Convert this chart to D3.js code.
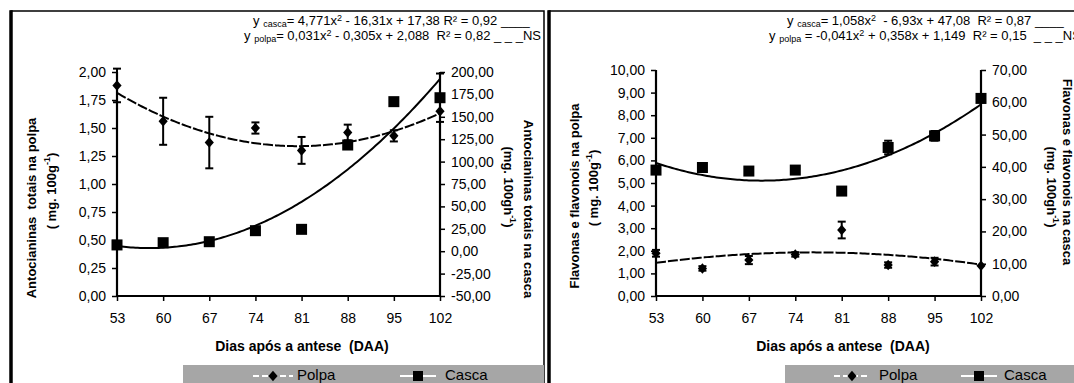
<!DOCTYPE html>
<html><head><meta charset="utf-8">
<script src="https://cdn.jsdelivr.net/npm/d3@7/dist/d3.min.js"></script>
<style>
body{margin:0;background:#fff}
svg{display:block}
text{font-family:"Liberation Sans",Arial,sans-serif;fill:#000;white-space:pre}
</style>
</head><body>
<svg id="c" width="1074" height="383"></svg>
<script>
// ---------- DATA ----------
const categories = [53, 60, 67, 74, 81, 88, 95, 102];

// Panel A: Antocianinas totais
const antPolpa     = [1.88, 1.56, 1.37, 1.50, 1.30, 1.46, 1.43, 1.65];
const antPolpaErr  = [0.15, 0.21, 0.23, 0.05, 0.12, 0.07, 0.05, 0];
const antCasca     = [7.0, 9.5, 10.6, 22.9, 24.4, 118.5, 166.9, 171.3];
const antCascaErr  = [0, 0, 0, 0, 0, 0, 0, 27];
const antCascaFit  = [4.771, -16.31, 17.38];
const antPolpaFit  = [0.031, -0.305, 2.088];
const antLeftTicks  = [0, 0.25, 0.5, 0.75, 1, 1.25, 1.5, 1.75, 2];
const antRightTicks = [-50, -25, 0, 25, 50, 75, 100, 125, 150, 175, 200];

// Panel B: Flavonas e flavonois
const flaPolpa     = [1.89, 1.22, 1.59, 1.84, 2.92, 1.37, 1.52, 1.34];
const flaPolpaErr  = [0.15, 0.10, 0.18, 0.10, 0.37, 0.12, 0.17, 0];
const flaCasca     = [39.0, 39.8, 38.7, 39.0, 32.5, 46.0, 49.6, 61.2];
const flaCascaErr  = [0.8, 1.2, 0, 0.6, 1.2, 2.1, 1.5, 0];
const flaCascaFit  = [1.058, -6.93, 47.08];
const flaPolpaFit  = [-0.041, 0.358, 1.149];
const flaLeftTicks  = [0, 1, 2, 3, 4, 5, 6, 7, 8, 9, 10];
const flaRightTicks = [0, 10, 20, 30, 40, 50, 60, 70];

// equation texts: [text, mode] mode: n normal, s subscript, p superscript
const antEq1 = [["y ","n"],["casca","s"],["= 4,771x","n"],["2","p"],[" - 16,31x + 17,38 R² = 0,92 ____","n"]];
const antEq2 = [["y ","n"],["polpa","s"],["= 0,031x","n"],["2","p"],[" - 0,305x + 2,088  R² = 0,82 _ _ _NS","n"]];
const flaEq1 = [["y ","n"],["casca","s"],["= 1,058x","n"],["2","p"],["  - 6,93x + 47,08  R² = 0,87 ____","n"]];
const flaEq2 = [["y ","n"],["polpa","s"],[" = -0,041x","n"],["2","p"],[" + 0,358x + 1,149  R² = 0,15  _ _ _NS","n"]];

// ---------- LAYOUT ----------
const panels = [
  { frame:{x:11,y:11,r:544}, plot:{x0:117,x1:440,top:72,bot:296},
    polpa:antPolpa, polpaErr:antPolpaErr, casca:antCasca, cascaErr:antCascaErr,
    polpaFit:antPolpaFit, cascaFit:antCascaFit,
    leftTicks:antLeftTicks, rightTicks:antRightTicks,
    eq1:antEq1, eq2:antEq2, eqX1:253, eqX2:244,
    titleX:302,
    lt:{x:33,y:208,t:"Antocianinas  totais na polpa"}, ls:{x:53,y:191,t:"( mg. 100g",u:"-1"},
    rt:{x:527,y:209,t:"Antocianinas totais na casca"}, rs:{x:507,y:187,t:"(mg. 100gh",u:"-1"},
    leg:{x:183, p1:253, p2:293, pt:297, c1:400, c2:436, ct:445}
  },
  { frame:{x:549,y:11,r:1085}, plot:{x0:656,x1:981,top:70,bot:296},
    polpa:flaPolpa, polpaErr:flaPolpaErr, casca:flaCasca, cascaErr:flaCascaErr,
    polpaFit:flaPolpaFit, cascaFit:flaCascaFit,
    leftTicks:flaLeftTicks, rightTicks:flaRightTicks,
    eq1:flaEq1, eq2:flaEq2, eqX1:787, eqX2:769,
    titleX:843,
    lt:{x:576,y:196,t:"Flavonas e flavonois na polpa"}, ls:{x:595,y:188,t:"( mg. 100g",u:"-1"},
    rt:{x:1066,y:172,t:"Flavonas e flavonois na casca"}, rs:{x:1050,y:187,t:"(mg. 100gh",u:"-1"},
    leg:{x:785, p1:834, p2:870, pt:879, c1:961, c2:997, ct:1004}
  }
];

const svg = d3.select("#c");
const fmt = v => d3.format(".2f")(v).replace(".", ",").replace("−","-");

function eqText(g, parts, x, y) {
  const t = g.append("text").attr("x", x).attr("y", y).style("font-size", "13px");
  let shift = 0;
  parts.forEach(([s, m]) => {
    let target = m === "s" ? 2 : m === "p" ? -4 : 0;
    t.append("tspan").attr("dy", target - shift)
      .style("font-size", m === "n" ? "13px" : "9px").text(s);
    shift = target;
  });
}

function vTitle(g, x, y, rot, text, sup) {
  const t = g.append("text")
    .attr("transform", `translate(${x},${y}) rotate(${rot})`)
    .attr("text-anchor", "middle").attr("dominant-baseline", "middle")
    .style("font-size", "13px").style("font-weight", "bold");
  t.append("tspan").text(text);
  if (sup) {
    t.append("tspan").attr("dy", -5).style("font-size", "9px").text(sup);
    t.append("tspan").attr("dy", 5).text(")");
  }
}

const diamond = (s) => `M0,${-s*1.15}L${s},0L0,${s*1.15}L${-s},0Z`;

panels.forEach(P => {
  const g = svg.append("g");
  const f = P.frame, p = P.plot;

  // frame
  g.append("path").attr("d", `M${f.x},400V${f.y}H${f.r}V400`)
    .attr("fill", "none").attr("stroke", "#000").attr("stroke-width", 1.5);
  g.append("line").attr("x1", f.x).attr("x2", f.x).attr("y1", f.y - 0.75).attr("y2", 400)
    .attr("stroke", "#000").attr("stroke-width", 3.5);

  // scales
  const xI = d3.scaleLinear().domain([1, categories.length]).range([p.x0, p.x1]);
  const yL = d3.scaleLinear().domain(d3.extent(P.leftTicks)).range([p.bot, p.top]);
  const yR = d3.scaleLinear().domain(d3.extent(P.rightTicks)).range([p.bot, p.top]);

  // axes
  const axL = d3.axisLeft(yL).tickValues(P.leftTicks).tickFormat(fmt).tickSize(5).tickPadding(6);
  const axR = d3.axisRight(yR).tickValues(P.rightTicks).tickFormat(fmt).tickSize(5).tickPadding(6);
  const xCat = d3.scalePoint().domain(categories).range([p.x0, p.x1]);
  const axB = d3.axisBottom(xCat).tickSize(5).tickPadding(12);

  [[axL, `translate(${p.x0},0)`], [axR, `translate(${p.x1},0)`], [axB, `translate(0,${p.bot})`]]
    .forEach(([ax, tr]) => {
      const a = g.append("g").attr("transform", tr).call(ax);
      a.select(".domain").remove();
      a.selectAll(".tick line").attr("stroke", "#000").attr("stroke-width", 1.5);
      a.selectAll(".tick text").style("font-size", "14px")
        .style("font-family", '"Liberation Sans",Arial,sans-serif').attr("fill", "#000");
    });
  // axis lines
  g.append("line").attr("x1", p.x0).attr("x2", p.x0).attr("y1", yL(d3.max(P.leftTicks))).attr("y2", p.bot + 1)
    .attr("stroke", "#000").attr("stroke-width", 2.2);
  g.append("line").attr("x1", p.x1).attr("x2", p.x1).attr("y1", yR(d3.max(P.rightTicks))).attr("y2", p.bot + 1)
    .attr("stroke", "#000").attr("stroke-width", 2.2);
  g.append("line").attr("x1", p.x0).attr("x2", p.x1).attr("y1", p.bot).attr("y2", p.bot)
    .attr("stroke", "#000").attr("stroke-width", 2.2);

  // fitted curves (from the printed regression equations)
  const ts = d3.range(1, categories.length + 0.001, 0.05);
  const poly = (c, t) => c[0] * t * t + c[1] * t + c[2];
  g.append("path").datum(ts)
    .attr("d", d3.line().x(t => xI(t)).y(t => yR(poly(P.cascaFit, t))))
    .attr("fill", "none").attr("stroke", "#000").attr("stroke-width", 2);
  g.append("path").datum(ts)
    .attr("d", d3.line().x(t => xI(t)).y(t => yL(poly(P.polpaFit, t))))
    .attr("fill", "none").attr("stroke", "#000").attr("stroke-width", 2)
    .attr("stroke-dasharray", "10,2");

  // error bars
  function errBars(vals, errs, ys) {
    vals.forEach((v, i) => {
      const e = errs[i]; if (!e) return;
      const x = xI(i + 1), y1 = ys(v - e), y2 = ys(v + e);
      g.append("line").attr("x1", x).attr("x2", x).attr("y1", y1).attr("y2", y2)
        .attr("stroke", "#000").attr("stroke-width", 2);
      [y1, y2].forEach(yy => g.append("line").attr("x1", x - 4).attr("x2", x + 4)
        .attr("y1", yy).attr("y2", yy).attr("stroke", "#000").attr("stroke-width", 2));
    });
  }
  errBars(P.polpa, P.polpaErr, yL);
  errBars(P.casca, P.cascaErr, yR);

  // markers
  g.selectAll(null).data(P.casca).join("rect")
    .attr("x", (d, i) => xI(i + 1) - 5.5).attr("y", d => yR(d) - 5.5)
    .attr("width", 11).attr("height", 11).attr("fill", "#000");
  g.selectAll(null).data(P.polpa).join("path")
    .attr("transform", (d, i) => `translate(${xI(i + 1)},${yL(d)})`)
    .attr("d", diamond(4.6)).attr("fill", "#000");

  // equations
  eqText(g, P.eq1, P.eqX1, 25);
  eqText(g, P.eq2, P.eqX2, 40);

  // axis title
  g.append("text").attr("x", P.titleX).attr("y", 351).attr("text-anchor", "middle")
    .style("font-size", "14px").style("font-weight", "bold").text("Dias após a antese  (DAA)");

  // y titles
  vTitle(g, P.lt.x, P.lt.y, -90, P.lt.t);
  vTitle(g, P.ls.x, P.ls.y, -90, P.ls.t, P.ls.u);
  vTitle(g, P.rs.x, P.rs.y, 90, P.rs.t, P.rs.u);
  vTitle(g, P.rt.x, P.rt.y, 90, P.rt.t);

  // legend
  const L = P.leg, ly = 376;
  g.append("rect").attr("x", L.x).attr("y", 365).attr("width", f.r - L.x).attr("height", 40)
    .attr("fill", "#a6a6a6");
  g.append("line").attr("x1", L.p1).attr("x2", L.p2).attr("y1", ly).attr("y2", ly)
    .attr("stroke", "#fff").attr("stroke-width", 2).attr("stroke-dasharray", "6,3");
  g.append("path").attr("transform", `translate(${(L.p1 + L.p2) / 2},${ly})`)
    .attr("d", diamond(4.6)).attr("fill", "#000");
  g.append("text").attr("x", L.pt).attr("y", ly).attr("dominant-baseline", "middle")
    .style("font-size", "15px").text("Polpa");
  g.append("line").attr("x1", L.c1).attr("x2", L.c2).attr("y1", ly).attr("y2", ly)
    .attr("stroke", "#fff").attr("stroke-width", 2);
  g.append("rect").attr("x", (L.c1 + L.c2) / 2 - 5).attr("y", ly - 5).attr("width", 10).attr("height", 10)
    .attr("fill", "#000");
  g.append("text").attr("x", L.ct).attr("y", ly).attr("dominant-baseline", "middle")
    .style("font-size", "15px").text("Casca");
});
</script>
</body></html>
